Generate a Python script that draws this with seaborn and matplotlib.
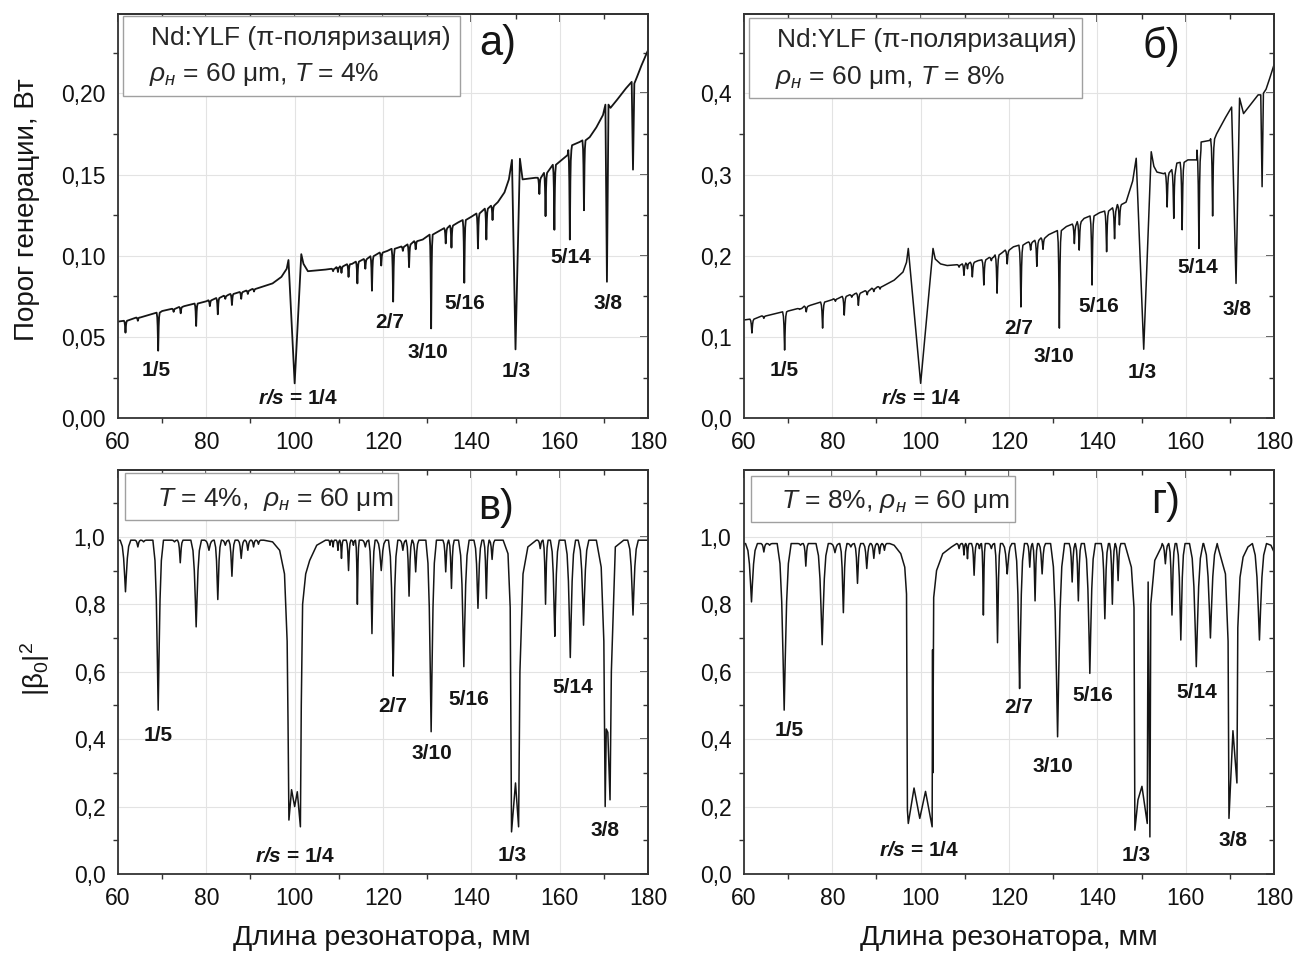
import numpy as np
import pandas as pd
import seaborn as sns
import matplotlib.pyplot as plt
from matplotlib.patches import Rectangle
from matplotlib.ticker import MultipleLocator, FuncFormatter

# ---------------- panel а) threshold, T = 4%
# smooth envelope of the curve (incl. the broad 1/4, 1/3, 3/8 features)
a_env_x = [60, 65, 70, 75, 80, 85, 90, 95, 97, 98.2, 98.6, 100, 101.5, 102.0, 103, 107,
           113, 121, 129, 137, 140, 146, 147.5, 148.5, 149.2, 150.0, 151.0, 151.6, 154.5,
           161.8, 162.8, 164.5, 166.8, 168.3, 169.8, 170.35, 170.7, 171.05, 171.5, 173,
           175, 176.3, 176.6, 176.9, 177.5, 178.5, 180]
a_env_y = [0.0595, 0.062, 0.066, 0.069, 0.072, 0.076, 0.079, 0.083, 0.087, 0.092, 0.0974,
           0.0215, 0.101, 0.095, 0.0905, 0.0915, 0.095, 0.103, 0.110, 0.1205, 0.124, 0.133,
           0.139, 0.147, 0.159, 0.0424, 0.1597, 0.147, 0.148, 0.162, 0.168, 0.170, 0.173,
           0.179, 0.1866, 0.193, 0.084, 0.193, 0.191, 0.196, 0.203, 0.207, 0.153, 0.206,
           0.210, 0.217, 0.2265]
# narrow resonance dips: position, level around the dip, bottom of the dip
a_dip_x = [61.7, 64.5, 69.1, 72.6, 74.2, 77.7, 80.8, 82.6, 84.3, 85.8, 87.9, 89.4, 90.8,
           108.7, 109.8, 110.6, 112.2, 114.2, 116.0, 117.5, 119.6, 122.3, 124.5, 125.9,
           127.4, 130.9, 134.2, 135.5, 138.4, 141.5, 143.4, 144.8, 155.4, 156.8, 158.8,
           162.3, 165.5]
a_dip_top = [0.060, 0.062, 0.065, 0.0674, 0.0685, 0.0706, 0.0726, 0.074, 0.0754, 0.0765,
             0.0777, 0.0786, 0.0796, 0.092, 0.093, 0.0935, 0.0948, 0.0964, 0.098, 0.0997,
             0.102, 0.1043, 0.1057, 0.107, 0.109, 0.113, 0.117, 0.1186, 0.122, 0.126,
             0.129, 0.1308, 0.148, 0.151, 0.156, 0.165, 0.171]
a_dip_low = [0.0527, 0.060, 0.0416, 0.0655, 0.0646, 0.0568, 0.069, 0.064, 0.0735, 0.0697,
             0.0735, 0.0765, 0.078, 0.0905, 0.090, 0.0895, 0.087, 0.083, 0.092, 0.0785,
             0.094, 0.0718, 0.103, 0.093, 0.104, 0.0553, 0.1076, 0.105, 0.0834, 0.1045,
             0.110, 0.122, 0.138, 0.1244, 0.116, 0.110, 0.128]

# ---------------- panel б) threshold, T = 8%
b_env_x = [60, 65, 70, 75, 80, 85, 90, 94, 96, 96.8, 97.2, 100, 102.8, 103.3, 104.5, 106,
           108, 113, 118.5, 121, 124, 129, 133, 137, 140.5, 146.5, 148.0, 148.8, 150.5,
           152.2, 152.8, 153.5, 155, 158, 160.5, 162.5, 163.5, 165.5, 167, 169, 170.4,
           171.4, 172.2, 173.1, 176.4, 177.0, 177.3, 177.6, 178.2, 179, 180]
b_env_y = [0.121, 0.126, 0.132, 0.139, 0.146, 0.153, 0.161, 0.170, 0.180, 0.192, 0.209,
           0.043, 0.209, 0.196, 0.190, 0.188, 0.189, 0.194, 0.204, 0.211, 0.216, 0.226,
           0.236, 0.246, 0.253, 0.266, 0.292, 0.320, 0.085, 0.328, 0.310, 0.303, 0.301,
           0.314, 0.318, 0.318, 0.340, 0.342, 0.350, 0.370, 0.383, 0.166, 0.394, 0.375,
           0.398, 0.398, 0.285, 0.400, 0.405, 0.418, 0.435]
b_dip_x = [61.8, 64.5, 69.2, 72.6, 74.1, 77.8, 80.7, 82.7, 84.4, 85.9, 87.9, 89.4, 90.8,
           108.7, 109.8, 110.6, 111.7, 114.3, 116.0, 117.3, 119.6, 122.7, 124.9, 126.3,
           127.7, 131.4, 134.8, 135.9, 138.8, 142.1, 143.9, 145.0, 155.8, 157.3, 159.2,
           163.0, 166.1]
b_dip_top = [0.122, 0.126, 0.131, 0.135, 0.138, 0.143, 0.147, 0.150, 0.152, 0.154, 0.157,
             0.160, 0.162, 0.189, 0.190, 0.191, 0.192, 0.195, 0.198, 0.201, 0.207, 0.213,
             0.217, 0.219, 0.222, 0.231, 0.239, 0.242, 0.249, 0.255, 0.259, 0.263, 0.302,
             0.306, 0.315, 0.330, 0.344]
b_dip_low = [0.105, 0.123, 0.084, 0.134, 0.131, 0.111, 0.144, 0.127, 0.149, 0.139, 0.152,
             0.156, 0.159, 0.186, 0.176, 0.184, 0.174, 0.164, 0.194, 0.154, 0.190, 0.137,
             0.207, 0.187, 0.208, 0.111, 0.215, 0.207, 0.164, 0.205, 0.221, 0.238, 0.260,
             0.246, 0.232, 0.209, 0.249]

# ---------------- panel в) |beta0|^2, T = 4%
c_env_x = [60, 93, 95, 96.6, 97.7, 98.3, 98.5, 98.7, 99.3, 100.0, 100.6, 101.3, 101.5,
           101.8, 102.5, 103.4, 105, 107, 147.2, 148.3, 148.8, 149.1, 150.0, 150.7, 151.0,
           151.7, 152.8, 154.7, 168.3, 169.4, 170.0, 170.3, 170.55, 170.9, 171.4, 171.7,
           172.6, 174.5, 180]
c_env_y = [0.99, 0.99, 0.985, 0.96, 0.89, 0.69, 0.45, 0.16, 0.25, 0.20, 0.244, 0.14, 0.50,
           0.80, 0.89, 0.93, 0.975, 0.99, 0.99, 0.95, 0.79, 0.125, 0.27, 0.14, 0.60, 0.89,
           0.97, 0.99, 0.99, 0.91, 0.69, 0.20, 0.43, 0.42, 0.22, 0.60, 0.97, 0.99, 0.99]
c_dip_x = [61.7, 64.5, 65.8, 69.1, 72.8, 74.1, 77.7, 80.6, 82.6, 84.3, 85.8, 87.9, 89.4,
           90.7, 91.8, 108.0, 108.7, 109.8, 110.6, 112.2, 113.3, 114.2, 116.0, 117.5,
           119.6, 122.3, 124.5, 125.9, 127.4, 130.9, 134.2, 135.5, 138.3, 141.5, 143.4,
           144.7, 155.6, 156.8, 158.9, 162.4, 165.4, 176.6]
c_dip_top = 0.99
c_dip_low = [0.837, 0.97, 0.985, 0.486, 0.985, 0.923, 0.733, 0.96, 0.814, 0.975, 0.883,
             0.936, 0.96, 0.97, 0.978, 0.975, 0.97, 0.96, 0.936, 0.90, 0.975, 0.80, 0.97,
             0.713, 0.90, 0.587, 0.96, 0.824, 0.896, 0.422, 0.896, 0.847, 0.615, 0.788,
             0.817, 0.933, 0.965, 0.80, 0.705, 0.642, 0.738, 0.768]

# ---------------- panel г) |beta0|^2, T = 8%
d_env_x = [60, 93, 94.0, 95.5, 96.4, 96.8, 97.0, 97.2, 98.5, 99.8, 101.1, 102.6, 102.7,
           102.75, 102.95, 103.6, 105, 107, 146.2, 147.7, 148.3, 148.5, 149.2, 150.1,
           151.3, 151.5, 151.9, 152.1, 153.0, 154.5, 167.3, 169.0, 169.6, 169.8, 170.7,
           171.6, 171.8, 172.3, 173.0, 174.1, 179.3, 180]
d_env_y = [0.98, 0.98, 0.975, 0.95, 0.91, 0.83, 0.19, 0.15, 0.255, 0.165, 0.245, 0.14,
           0.665, 0.30, 0.82, 0.90, 0.95, 0.97, 0.98, 0.91, 0.79, 0.13, 0.22, 0.26, 0.15,
           0.866, 0.11, 0.80, 0.93, 0.97, 0.97, 0.89, 0.69, 0.165, 0.425, 0.27, 0.73, 0.88,
           0.94, 0.97, 0.975, 0.955]
d_dip_x = [61.7, 64.5, 65.8, 69.1, 72.8, 74.0, 77.7, 80.6, 82.5, 84.2, 85.7, 87.8, 89.4,
           90.7, 91.8, 108.7, 109.8, 110.6, 112.1, 113.3, 114.2, 116.0, 117.4, 119.6,
           122.4, 124.7, 125.9, 127.5, 131.0, 134.3, 135.7, 138.3, 141.7, 143.4, 144.7,
           155.4, 156.9, 158.9, 162.4, 165.6, 176.7]
d_dip_top = 0.98
d_dip_low = [0.807, 0.955, 0.975, 0.486, 0.975, 0.913, 0.68, 0.953, 0.775, 0.97, 0.862,
             0.906, 0.936, 0.95, 0.96, 0.965, 0.946, 0.935, 0.886, 0.965, 0.768, 0.965,
             0.686, 0.89, 0.55, 0.91, 0.81, 0.89, 0.407, 0.866, 0.81, 0.595, 0.757, 0.80,
             0.87, 0.92, 0.768, 0.694, 0.615, 0.70, 0.694]

ratio_labels = ['1/5', '2/7', '3/10', '5/16', '1/3', '5/14', '3/8']

# drawing template of one dip (offsets in half-widths, share of the dip depth)
DIP_U = np.array([-1, -0.6, -0.35, -0.15, 0, 0.15, 0.35, 0.6, 1])
DIP_F = np.array([0, 0.12, 0.35, 0.7, 1, 0.7, 0.35, 0.12, 0])


def trace(env_x, env_y, dip_x, dip_top, dip_low, w):
    # merge the envelope with the dips into one ordered polyline
    dip_x = np.asarray(dip_x, float)
    tops = np.broadcast_to(np.asarray(dip_top, float), dip_x.shape)
    lows = np.asarray(dip_low, float)
    gaps = np.diff(dip_x)
    near = np.minimum(np.r_[np.inf, gaps], np.r_[gaps, np.inf])
    half = np.minimum(w, 0.48 * near)
    xs, ys = [], []
    for x, y in zip(env_x, env_y):
        if np.all(np.abs(dip_x - x) > half):
            xs.append(x)
            ys.append(y)
    for x, t, l, h in zip(dip_x, tops, lows, half):
        xs += list(x + DIP_U * h)
        ys += list(t - DIP_F * (t - l))
    order = np.argsort(xs, kind='stable')
    return pd.DataFrame({'x': np.array(xs)[order], 'y': np.array(ys)[order]})


sns.set_theme(style='white')
plt.rcParams['font.family'] = ['Liberation Sans', 'DejaVu Sans']
plt.rcParams['mathtext.fontset'] = 'custom'
plt.rcParams['mathtext.rm'] = 'Liberation Sans'
plt.rcParams['mathtext.it'] = 'Liberation Sans:italic'
plt.rcParams['mathtext.bf'] = 'Liberation Sans:bold'
plt.rcParams['mathtext.bfit'] = 'Liberation Sans:italic:bold'

fig = plt.figure(figsize=(12.95, 9.55), dpi=100)
ax_a = fig.add_axes([0.0911, 0.562, 0.4093, 0.4234])
ax_b = fig.add_axes([0.5745, 0.562, 0.4093, 0.4234])
ax_c = fig.add_axes([0.0911, 0.0848, 0.4093, 0.4230])
ax_d = fig.add_axes([0.5745, 0.0848, 0.4093, 0.4230])

panels = [
    (ax_a, trace(a_env_x, a_env_y, a_dip_x, a_dip_top, a_dip_low, 0.35), 0.2488, 0.05, 2, 1.3),
    (ax_b, trace(b_env_x, b_env_y, b_dip_x, b_dip_top, b_dip_low, 0.45), 0.4976, 0.1, 1, 1.1),
    (ax_c, trace(c_env_x, c_env_y, c_dip_x, c_dip_top, c_dip_low, 1.2), 1.198, 0.2, 1, 1.1),
    (ax_d, trace(d_env_x, d_env_y, d_dip_x, d_dip_top, d_dip_low, 1.6), 1.198, 0.2, 1, 1.1),
]

for ax, df, ytop, ystep, nd, lw in panels:
    sns.lineplot(data=df, x='x', y='y', sort=False, estimator=None,
                 color='#151515', lw=lw, ax=ax)
    ax.set_xlim(60, 180)
    ax.set_ylim(0, ytop)
    ax.set_xlabel('')
    ax.set_ylabel('')
    ax.xaxis.set_major_locator(MultipleLocator(20))
    ax.xaxis.set_minor_locator(MultipleLocator(10))
    ax.yaxis.set_major_locator(MultipleLocator(ystep))
    ax.yaxis.set_minor_locator(MultipleLocator(ystep / 2))
    ax.yaxis.set_major_formatter(FuncFormatter(
        lambda v, p, nd=nd: f'{v:.{nd}f}'.replace('.', ',')))
    ax.grid(True, which='major', color='#e3e3e3', lw=0.8)
    ax.tick_params(which='both', direction='out', labelsize=16.5, color='#333',
                   labelcolor='#111', pad=3)
    ax.tick_params(which='major', length=6, width=1.1)
    ax.tick_params(which='minor', length=3.5, width=1.0, left=True, bottom=True)
    for s in ax.spines.values():
        s.set_color('#333')
        s.set_linewidth(1.3)
    top = ax.secondary_xaxis('top')
    top.xaxis.set_major_locator(MultipleLocator(20))
    top.xaxis.set_minor_locator(MultipleLocator(10))
    top.tick_params(which='both', direction='in', labeltop=False, color='#333')
    top.tick_params(which='major', length=6, width=1.1)
    top.tick_params(which='minor', length=3.5, width=1.0)
    right = ax.secondary_yaxis('right')
    right.yaxis.set_major_locator(MultipleLocator(ystep))
    right.yaxis.set_minor_locator(MultipleLocator(ystep / 2))
    right.tick_params(which='both', direction='in', labelright=False, color='#333')
    right.tick_params(which='major', length=6, width=1.1)
    right.tick_params(which='minor', length=3.5, width=1.0)

# ratio labels
label_pos = {
    ax_a: [(68.7, 0.0297), (121.5, 0.0588), (130.2, 0.0403), (138.5, 0.0707),
           (150.2, 0.029), (162.5, 0.0988), (170.9, 0.0707), (100.8, 0.0123)],
    ax_b: [(69.2, 0.0594), (122.2, 0.111), (130.1, 0.0758), (140.4, 0.137),
           (150.1, 0.056), (162.7, 0.186), (171.7, 0.134), (100.0, 0.0246)],
    ax_c: [(69.1, 0.412), (122.3, 0.498), (131.0, 0.358), (139.5, 0.518),
           (149.3, 0.056), (162.9, 0.553), (170.2, 0.13), (100.0, 0.051)],
    ax_d: [(70.2, 0.427), (122.2, 0.495), (130.0, 0.318), (138.9, 0.528),
           (148.9, 0.056), (162.5, 0.537), (170.6, 0.10), (99.6, 0.069)],
}
for ax, pos in label_pos.items():
    for txt, (x, y) in zip(ratio_labels, pos[:-1]):
        ax.text(x, y, txt, ha='center', va='center', fontsize=15,
                fontweight='bold', color='#151515')
    x, y = pos[-1]
    ax.text(x, y, r'$\mathbfit{r/s}$ = 1/4', ha='center', va='center',
            fontsize=15, fontweight='bold', color='#151515')


# info boxes (frame in axes fractions, text placed inside)
def info_box(ax, x0, x1, y0, y1):
    ax.add_patch(Rectangle((x0, y0), x1 - x0, y1 - y0, transform=ax.transAxes,
                           fc='white', ec='#a0a0a0', lw=1.0, zorder=5))


info_box(ax_a, 0.009, 0.645, 0.797, 0.995)
ax_a.text(0.062, 0.94, 'Nd:YLF (π-поляризация)', transform=ax_a.transAxes,
          ha='left', va='center', fontsize=19, zorder=6)
ax_a.text(0.058, 0.849, r'$\rho_{н}$ = 60 μm, $T$ = 4%', transform=ax_a.transAxes,
          ha='left', va='center', fontsize=19, zorder=6)
info_box(ax_b, 0.009, 0.638, 0.792, 0.990)
ax_b.text(0.062, 0.935, 'Nd:YLF (π-поляризация)', transform=ax_b.transAxes,
          ha='left', va='center', fontsize=19, zorder=6)
ax_b.text(0.058, 0.844, r'$\rho_{н}$ = 60 μm, $T$ = 8%', transform=ax_b.transAxes,
          ha='left', va='center', fontsize=19, zorder=6)
info_box(ax_c, 0.0126, 0.528, 0.876, 0.9926)
ax_c.text(0.073, 0.928, r'$T$ = 4%,  $\rho_{н}$ = 60 μm', transform=ax_c.transAxes,
          ha='left', va='center', fontsize=19, zorder=6)
info_box(ax_d, 0.0126, 0.511, 0.871, 0.985)
ax_d.text(0.069, 0.922, r'$T$ = 8%, $\rho_{н}$ = 60 μm', transform=ax_d.transAxes,
          ha='left', va='center', fontsize=19, zorder=6)

# panel letters
for ax, letter, (x, y) in [(ax_a, 'а)', (146, 0.2306)), (ax_b, 'б)', (154.6, 0.457)),
                           (ax_c, 'в)', (145.7, 1.084)), (ax_d, 'г)', (155.5, 1.104))]:
    ax.text(x, y, letter, ha='center', va='center', fontsize=30, color='#151515')

fig.text(0.021, 0.78, 'Порог генерации, Вт', rotation=90, ha='center', va='center',
         fontsize=20, color='#151515')
fig.text(0.027, 0.30, r'$|\mathrm{\beta}_{0}|^{2}$', rotation=90, ha='center',
         va='center', fontsize=20, color='#151515')
fig.text(0.295, 0.018, 'Длина резонатора, мм', ha='center', va='center',
         fontsize=20.5, color='#151515')
fig.text(0.779, 0.018, 'Длина резонатора, мм', ha='center', va='center',
         fontsize=20.5, color='#151515')

fig.savefig('out.png', dpi=100)
